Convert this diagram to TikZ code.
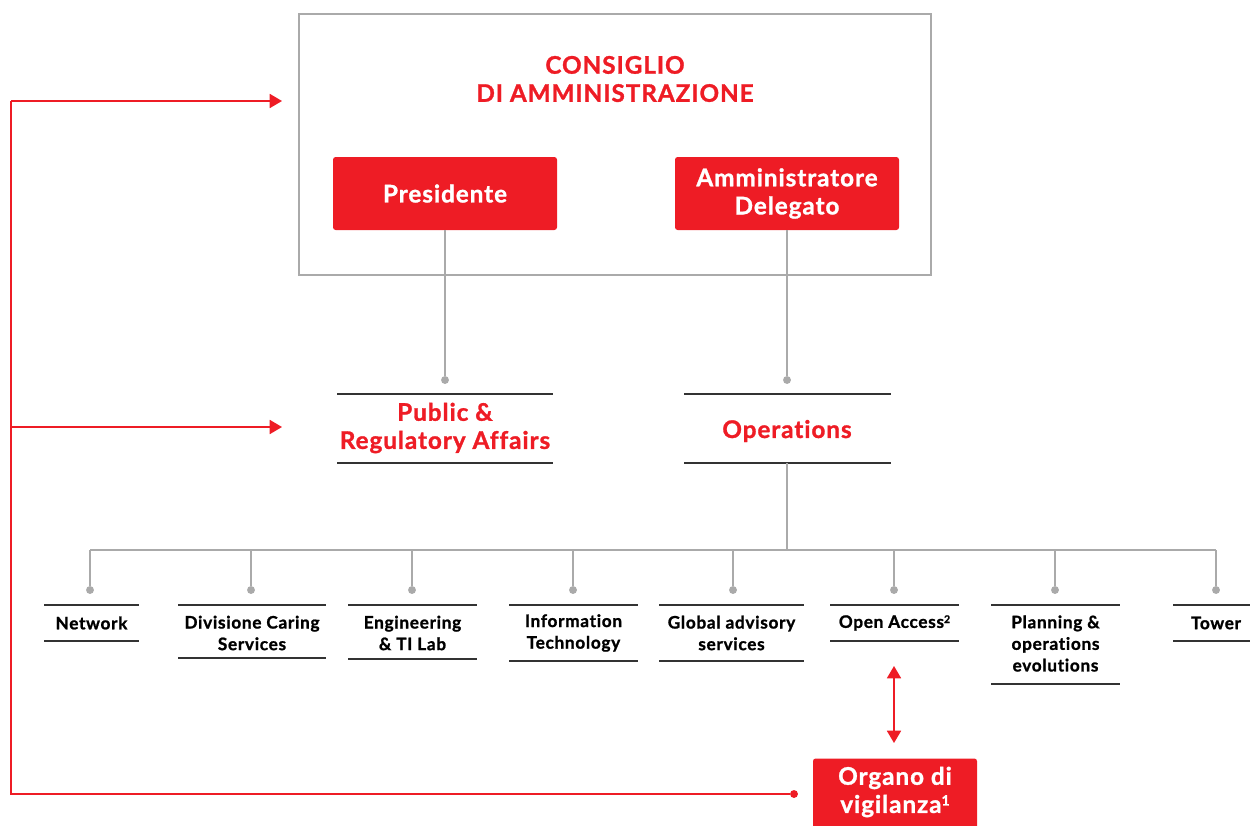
\documentclass[tikz,border=0pt]{standalone}
\usepackage{fontspec}
\setmainfont{Lato}[Ligatures={NoCommon},BoldFeatures={FakeBold=1.2,LetterSpace=4,Ligatures={NoCommon}}]
\usetikzlibrary{arrows.meta}
\definecolor{tred}{HTML}{EE1C25}
\definecolor{tgray}{HTML}{AAAAAA}
\definecolor{tline}{HTML}{333333}
\begin{document}
\begin{tikzpicture}[x=0.02cm,y=-0.02cm,
  redbox/.style={fill=tred,rounded corners=1.5pt,inner sep=0pt},
  wtxt/.style={text=white,font=\fontsize{13.8pt}{16pt}\selectfont\bfseries,align=center},
  rtxt/.style={text=tred,font=\fontsize{13.8pt}{16pt}\selectfont\bfseries,align=center},
  btxt/.style={text=black,font=\fontsize{9.8pt}{12.3pt}\selectfont\bfseries\addfontfeatures{LetterSpace=6},align=center},
  gconn/.style={draw=tgray,line width=1.1pt},
  hline/.style={draw=tline,line width=0.7pt},
  rconn/.style={draw=tred,line width=0.9pt},
  dot/.style={circle,fill=tgray,inner sep=0pt,minimum size=4.5pt},
  rdot/.style={circle,fill=tred,inner sep=0pt,minimum size=4.5pt},
  tip/.style={-{Triangle[length=7pt,width=8pt]}}
]
\useasboundingbox (0,0) rectangle (1250,825);
% outer board box
\node[draw=tgray,line width=1.1pt,minimum width=632*0.02cm,minimum height=261*0.02cm,inner sep=0pt] (board) at (615,144.5) {};
\node[rtxt] (title) at (615,79) {CONSIGLIO\\DI AMMINISTRAZIONE};
\node[redbox,minimum width=224*0.02cm,minimum height=73*0.02cm] (pres) at (445,193.5) {};
\node[wtxt] (prest) at (pres) {Presidente};
\node[redbox,minimum width=224*0.02cm,minimum height=73*0.02cm] (ad) at (787,193.5) {};
\node[wtxt] (adt) at (ad) {Amministratore\\Delegato};
% dots
\node[dot] (dpra) at (445,380) {};
\node[dot] (dops) at (787,380) {};
\draw[gconn] (pres.south) -- (dpra);
\draw[gconn] (ad.south) -- (dops);
% Public & Regulatory Affairs
\node[rtxt] (pra) at (445,428) {Public \&\\Regulatory Affairs};
\draw[hline] (337,394) -- (553,394);
\draw[hline] (337,463) -- (553,463);
% Operations
\node[rtxt] (ops) at (787,431) {Operations};
\coordinate (opsb) at (787,463);
\draw[hline] (684,394) -- (891,394);
\draw[hline] (684,463) -- (891,463);
% bus
\coordinate (bus) at (787,550);
\coordinate (busl) at (90,550);
\coordinate (busr) at (1216,550);
\draw[gconn] (opsb) -- (bus);
\draw[gconn] (busl) -- (busr);
\foreach \x/\n in {90/a,251/b,412/c,573/d,733/e,894/f,1055/g,1216/h}{
  \coordinate (b\n) at (\x,550);
  \node[dot] (d\n) at (\x,590) {};
  \draw[gconn] (b\n) -- (d\n);
}
% bottom units
\node[btxt] (net) at (91.5,623) {Network};
\draw[hline] (44,605) -- (139,605); \draw[hline] (44,641) -- (139,641);
\node[btxt] (dcs) at (252,633) {Divisione Caring\\Services};
\draw[hline] (178,605) -- (326,605); \draw[hline] (178,658) -- (326,658);
\node[btxt] (eng) at (412.5,633) {Engineering\\\& TI Lab};
\draw[hline] (348,605) -- (477,605); \draw[hline] (348,659) -- (477,659);
\node[btxt] (it) at (573.5,633) {Information\\Technology};
\draw[hline] (509,605) -- (638,605); \draw[hline] (509,661) -- (638,661);
\node[btxt] (gas) at (731.5,633) {Global advisory\\services};
\draw[hline] (659,605) -- (804,605); \draw[hline] (659,661) -- (804,661);
\node[btxt] (oa) at (894.5,623) {Open Access\raisebox{0.55ex}{\fontsize{6pt}{6pt}\selectfont 2}};
\draw[hline] (830,605) -- (959,605); \draw[hline] (830,641) -- (959,641);
\node[btxt] (poe) at (1055.5,643.5) {Planning \&\\operations\\evolutions};
\draw[hline] (991,605) -- (1120,605); \draw[hline] (991,684) -- (1120,684);
\node[btxt] (tow) at (1216,623) {Tower};
\draw[hline] (1173,605) -- (1250,605); \draw[hline] (1173,641) -- (1250,641);
% Organo di vigilanza
\node[redbox,minimum width=164*0.02cm,minimum height=75*0.02cm] (odv) at (895,796) {};
\node[wtxt] (odvt) at (895,792) {Organo di\\vigilanza\raisebox{0.6ex}{\fontsize{8pt}{8pt}\selectfont 1}};
\coordinate (oatop) at (894,666);
\coordinate (odvtop) at (894,743);
\draw[rconn,{Triangle[length=7pt,width=8pt]}-{Triangle[length=7pt,width=8pt]}] (oatop) -- (odvtop);
% red feedback lines
\node[rdot] (rd) at (794,794) {};
\coordinate (c1) at (11,794);
\coordinate (c2) at (11,101);
\coordinate (c3) at (11,427);
\coordinate (a1) at (282,101);
\coordinate (a2) at (282,427);
\draw[rconn] (rd) -- (c1) -- (c2);
\draw[rconn,tip] (c2) -- (a1);
\draw[rconn,tip] (c3) -- (a2);
\end{tikzpicture}
\end{document}
